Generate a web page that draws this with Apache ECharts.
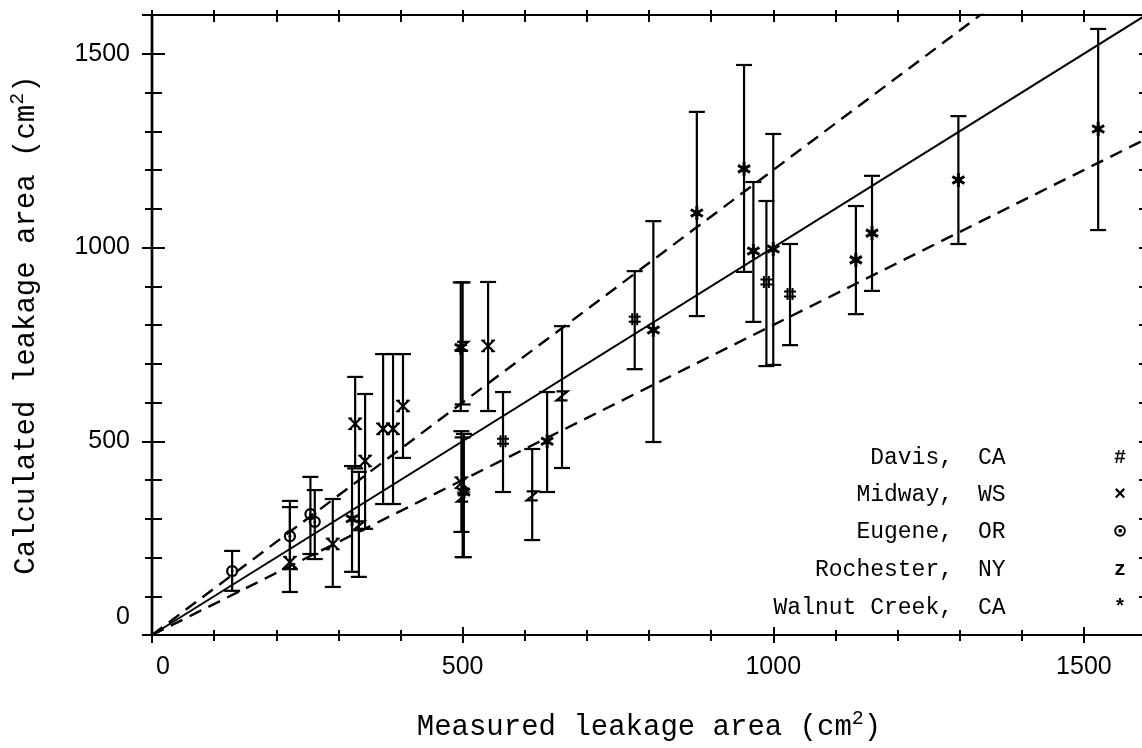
<!DOCTYPE html>
<html><head><meta charset="utf-8">
<script src="https://cdn.jsdelivr.net/npm/echarts@6/dist/echarts.min.js"></script>
<style>html,body{margin:0;padding:0;background:#fff}#c{width:1142px;height:748px}</style>
</head><body><div id="c"></div>
<script>
// [measured, calculated, calc low, calc high]
const davis = [[565,500,369,627],[777,815,686,939],[989,911,694,1120],[1027,880,748,1009]];
const midway = [[222,188,111,330],[291,235,124,351],[327,545,430,666],[343,449,274,622],[372,532,338,725],[388,532,338,725],[404,591,457,725],[498,393,266,526],[541,746,578,911]];
const eugene = [[129,165,114,217],[222,255,170,346],[255,312,209,408],[262,292,196,374]];
const rochester = [[333,282,150,421],[500,356,201,510],[500,745,595,910],[612,359,245,480],[660,617,431,797]];
const walnutCreek = [[322,300,163,436],[497,742,578,910],[502,369,201,519],[636,500,369,627],[807,787,498,1068],[877,1089,823,1350],[953,1203,937,1471],[968,991,808,1169],[1000,996,697,1293],[1133,968,828,1107],[1159,1037,888,1185],[1298,1174,1009,1339],[1523,1306,1045,1564]];
const refX = [0,1600];
const refEqualY = [0,1600];
const refUpperY = [0,1920];
const refLowerY = [0,1280];
const tickLabels = [0,500,1000,1500];
const legendNames = ['Davis,','Midway,','Eugene,','Rochester,','Walnut Creek,'];
const legendStates = ['CA','WS','OR','NY','CA'];
const legendGlyphs = ['#','×','⊙','z','*'];
const siteKinds = ['hash','cross','circle','zed','star'];
const siteData = [davis, midway, eugene, rochester, walnutCreek];

const BLACK = '#000';
const MONO = '"Liberation Mono", "DejaVu Sans Mono", monospace';
const SANS = '"Liberation Sans", Arial, sans-serif';

function markerShapes(kind, x, y){
  const s = {stroke:BLACK, lineWidth:2.2, fill:null};
  const L = (x1,y1,x2,y2,w)=>({type:'line', shape:{x1,y1,x2,y2}, style:Object.assign({}, s, w?{lineWidth:w}:{})});
  if (kind==='hash') return [L(x-2.5,y-6,x-2.5,y+6,2),L(x+2.5,y-6,x+2.5,y+6,2),L(x-6,y-2.5,x+6,y-2.5,2),L(x-6,y+2.5,x+6,y+2.5,2)];
  if (kind==='cross') return [L(x-5.5,y-5.5,x+5.5,y+5.5),L(x-5.5,y+5.5,x+5.5,y-5.5),L(x-7,y-5.5,x-3,y-5.5,1.6),L(x+3,y-5.5,x+7,y-5.5,1.6),L(x-7,y+5.5,x-3,y+5.5,1.6),L(x+3,y+5.5,x+7,y+5.5,1.6)];
  if (kind==='circle') return [{type:'circle', shape:{cx:x,cy:y,r:5}, style:{stroke:BLACK,lineWidth:2.2,fill:null}},{type:'circle', shape:{cx:x,cy:y,r:1.4}, style:{fill:BLACK}}];
  if (kind==='zed') return [{type:'polyline', shape:{points:[[x-5.5,y-4.5],[x+5.5,y-4.5],[x-5.5,y+4.5],[x+5.5,y+4.5]]}, style:{stroke:BLACK,lineWidth:2.2,fill:null}}];
  return [L(x,y-7,x,y+7,3),L(x-6,y-3.5,x+6,y+3.5,3),L(x-6,y+3.5,x+6,y-3.5,3),{type:'circle', shape:{cx:x,cy:y,r:3}, style:{fill:BLACK}}];
}
function makeRender(kind){
  return function(params, api){
    const x=api.value(0), y=api.value(1), lo=api.value(2), hi=api.value(3);
    const p=api.coord([x,y]), a=api.coord([x,hi]), b=api.coord([x,lo]);
    const st={stroke:BLACK, lineWidth:2.2, fill:null};
    const kids=[
      {type:'line', shape:{x1:a[0],y1:a[1],x2:b[0],y2:b[1]}, style:st},
      {type:'line', shape:{x1:a[0]-8,y1:a[1],x2:a[0]+8,y2:a[1]}, style:st},
      {type:'line', shape:{x1:b[0]-8,y1:b[1],x2:b[0]+8,y2:b[1]}, style:st}
    ].concat(markerShapes(kind, p[0], p[1]));
    return {type:'group', children:kids};
  };
}

const lineStyleAxis = {color:BLACK, width:2.2};
function axisDef(position, inside, len, interval, extra){
  return Object.assign({type:'value', position, min:0, max:1600, interval,
    axisLine:{show:true, onZero:false, lineStyle:lineStyleAxis},
    axisTick:{show:true, inside, length:len, lineStyle:{color:BLACK, width:2}},
    axisLabel:{show:false}, splitLine:{show:false}}, extra||{});
}
const richSup = {fontFamily:MONO, fontSize:20, color:BLACK, padding:[0,0,16,0]};
const richMain = {fontFamily:MONO, fontSize:29, color:BLACK};

const xAxes = [
  axisDef('bottom', true, 5, 100, {
    axisLabel:{show:true, margin:20, color:BLACK, fontFamily:SANS, fontSize:25,
      formatter:v=> v===tickLabels[0] ? '{z|'+v+'}' : (tickLabels.indexOf(v)>=0 ? String(v) : ''),
      rich:{z:{fontFamily:SANS, fontSize:25, color:BLACK, padding:[0,0,0,22]}}},
    name:'{m|Measured leakage area (cm}{s|2}{m|)}', nameLocation:'middle', nameGap:74,
    nameTextStyle:{fontFamily:MONO, fontSize:29, color:BLACK, rich:{m:richMain, s:richSup}}
  }),
  axisDef('bottom', false, 6, 100),
  axisDef('bottom', true, 8, 500),
  axisDef('bottom', false, 8, 500),
  axisDef('top', true, 7, 100),
  axisDef('top', false, 5, 100)
];
const yAxes = [
  axisDef('left', true, 10, 100, {
    axisLabel:{show:true, margin:22, color:BLACK, fontFamily:SANS, fontSize:25,
      formatter:v=> v===tickLabels[0] ? '{z|'+v+'}' : (tickLabels.indexOf(v)>=0 ? String(v) : ''),
      rich:{z:{fontFamily:SANS, fontSize:25, color:BLACK, padding:[0,0,36,0]}}},
    name:'{m|Calculated leakage area (cm}{s|2}{m|)}', nameLocation:'middle', nameGap:108,
    nameTextStyle:{fontFamily:MONO, fontSize:29, color:BLACK, rich:{m:richMain, s:richSup}}
  }),
  axisDef('left', false, 7, 100),
  axisDef('left', true, 13, 500),
  axisDef('left', false, 10, 500),
  axisDef('right', true, 7, 100)
];

const series = [
  {type:'line', data:refX.map((x,i)=>[x, refEqualY[i]]), symbol:'none', silent:true, lineStyle:{color:BLACK, width:2}, z:1},
  {type:'line', data:refX.map((x,i)=>[x, refUpperY[i]]), symbol:'none', silent:true, lineStyle:{color:BLACK, width:2.4, type:[13,8]}, z:1},
  {type:'line', data:refX.map((x,i)=>[x, refLowerY[i]]), symbol:'none', silent:true, lineStyle:{color:BLACK, width:2.4, type:[13,8]}, z:1}
].concat(siteData.map((d,i)=>({
  type:'custom', name:legendNames[i], data:d, renderItem:makeRender(siteKinds[i]),
  encode:{x:0, y:[1,2,3]}, clip:false, z:2
})));

const legendRowsY = [458,495,532,570,608];
const graphic = [];
legendNames.forEach((n,i)=>{
  graphic.push({type:'text', x:953, y:legendRowsY[i], style:{text:n, fill:BLACK, font:'23px '+MONO, align:'right', verticalAlign:'middle'}});
  graphic.push({type:'text', x:978, y:legendRowsY[i], style:{text:legendStates[i], fill:BLACK, font:'23px '+MONO, align:'left', verticalAlign:'middle'}});
  graphic.push({type:'text', x:1120, y:legendRowsY[i], style:{text:legendGlyphs[i], fill:BLACK, font:'bold 20px '+MONO, align:'center', verticalAlign:'middle'}});
});

const chart = echarts.init(document.getElementById('c'), null, {renderer:'canvas'});
chart.setOption({
  backgroundColor:'#fff',
  animation:false,
  grid:{left:152, top:15, right:-4, bottom:113, containLabel:false, outerBoundsMode:'none'},
  xAxis:xAxes,
  yAxis:yAxes,
  series,
  graphic
});
</script></body></html>
